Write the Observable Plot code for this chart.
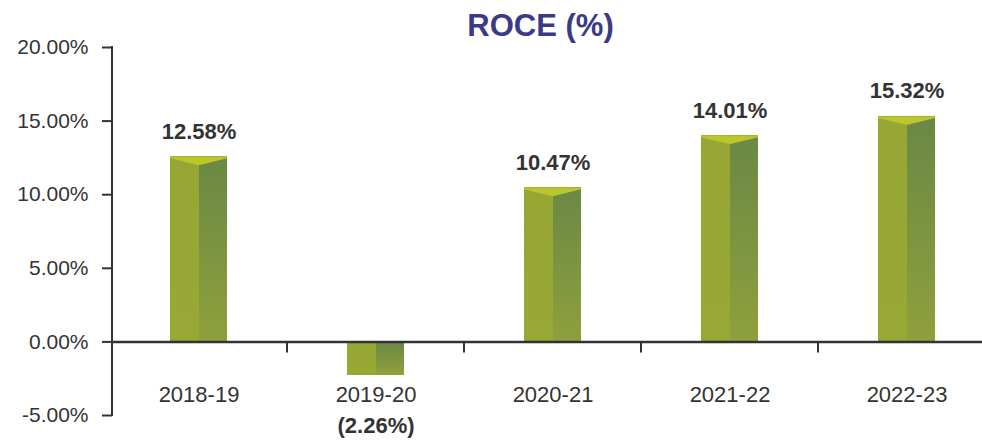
<!DOCTYPE html>
<html><head><meta charset="utf-8">
<script src="https://cdn.jsdelivr.net/npm/d3@7"></script>
<script src="https://cdn.jsdelivr.net/npm/@observablehq/plot@0.6"></script>
<style>body{margin:0;background:#fff;} svg{display:block}</style>
</head><body><div id="chart"></div>
<script>
const categories = ["2018-19", "2019-20", "2020-21", "2021-22", "2022-23"];
const roce = [12.58, -2.26, 10.47, 14.01, 15.32];
const yTicks = [-5, 0, 5, 10, 15, 20];
const title = "ROCE (%)";

const data = categories.map((c, i) => ({year: c, value: roce[i]}));
const font = "'Liberation Sans', Arial, Helvetica, sans-serif";
const ink = "#333333";

const W = 982, H = 440;
const mL = 112, mT = 47, mB = 25;
const step = 177;
const x0 = 110;
const barW = 57;
const side = (step - barW) / 2;   // 60
const leftW = 29;

function topFaces(index, scales) {
  const g = d3.create("svg:g");
  for (const d of data) {
    if (d.value <= 0) continue;
    const xl = scales.x(d.year) + side, xr = xl + barW, xc = xl + leftW;
    const yt = scales.y(d.value);
    g.append("polygon")
      .attr("points", [[xl, yt], [xr, yt], [xr, yt + 2], [xc, yt + 9], [xl, yt + 2]].map(p => p.join(",")).join(" "))
      .attr("fill", "#bcc52b");
    g.append("line").attr("x1", xl).attr("x2", xr).attr("y1", yt + 0.5).attr("y2", yt + 0.5)
      .attr("stroke", "#a9b22c").attr("stroke-width", 1);
  }
  return g.node();
}

function boundaryTicks(index, scales) {
  const g = d3.create("svg:g");
  const y0 = scales.y(0);
  for (const c of categories.slice(1)) {
    const x = scales.x(c);
    g.append("line").attr("x1", x).attr("x2", x).attr("y1", y0).attr("y2", y0 + 11)
      .attr("stroke", ink).attr("stroke-width", 2);
  }
  return g.node();
}

function axisLine(index, scales, values, dims) {
  const g = d3.create("svg:g");
  const [a, b] = scales.y.domain();
  g.append("line").attr("x1", dims.marginLeft).attr("x2", dims.marginLeft)
    .attr("y1", scales.y(b) - 1).attr("y2", scales.y(a) + 1)
    .attr("stroke", ink).attr("stroke-width", 2);
  return g.node();
}

const plot = Plot.plot({
  width: W, height: H,
  marginLeft: mL, marginRight: 0, marginTop: mT, marginBottom: mB,
  style: {fontFamily: font, color: ink, background: "#fff"},
  x: {type: "band", domain: categories, range: [x0, x0 + step * categories.length], padding: 0, axis: null},
  y: {domain: [-5, 20], axis: null},
  marks: [
    Plot.barY(data, {x: "year", y: "value", insetLeft: side, insetRight: step - side - leftW, fill: "url(#gLeft)", shapeRendering: "crispEdges"}),
    Plot.barY(data, {x: "year", y: "value", insetLeft: side + leftW, insetRight: side, fill: "url(#gRight)", shapeRendering: "crispEdges"}),
    topFaces,
    Plot.ruleY([0], {stroke: ink, strokeWidth: 2.5}),
    boundaryTicks,
    axisLine,
    Plot.axisY({ticks: yTicks, tickFormat: d => d.toFixed(2) + "%", tickSize: 10, tickPadding: 14, label: null,
      fontSize: 21, stroke: ink, strokeWidth: 2, fill: ink}),
    Plot.text(categories, {x: d => d, frameAnchor: "bottom", lineAnchor: "bottom", dy: -14, fontSize: 22, fill: ink}),
    Plot.text(data.filter(d => d.value > 0), {x: "year", y: "value", text: d => d.value.toFixed(2) + "%",
      lineAnchor: "bottom", dy: -18, fontSize: 22, fontWeight: "bold", fill: ink}),
    Plot.text(data.filter(d => d.value < 0), {x: "year", y: "value", text: d => "(" + Math.abs(d.value).toFixed(2) + "%)",
      lineAnchor: "bottom", dy: 58, fontSize: 22, fontWeight: "bold", fill: ink}),
    Plot.text([title], {frameAnchor: "top", lineAnchor: "bottom", dy: -12, dx: -7, fontSize: 31, fontWeight: "bold", fill: "#3b3a86"})
  ]
});

const defs = d3.select(plot).insert("defs", ":first-child");
const gl = defs.append("linearGradient").attr("id", "gLeft").attr("x1", 0).attr("x2", 0).attr("y1", 0).attr("y2", 1);
gl.append("stop").attr("offset", "0%").attr("stop-color", "#97a734");
gl.append("stop").attr("offset", "100%").attr("stop-color", "#98a835");
const gr = defs.append("linearGradient").attr("id", "gRight").attr("x1", 0).attr("x2", 0).attr("y1", 0).attr("y2", 1);
gr.append("stop").attr("offset", "0%").attr("stop-color", "#6a8845");
gr.append("stop").attr("offset", "100%").attr("stop-color", "#8fa03c");

document.getElementById("chart").appendChild(plot);
</script>
</body></html>
